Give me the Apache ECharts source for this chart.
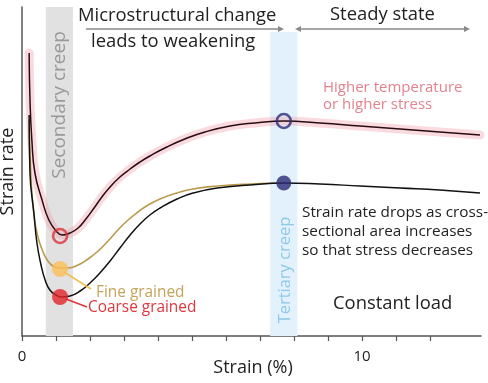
<!DOCTYPE html>
<html><head><meta charset="utf-8">
<script src="https://cdn.jsdelivr.net/npm/echarts@6/dist/echarts.min.js"></script>
<style>html,body{margin:0;padding:0;background:#fff}#c{width:488px;height:383px}</style>
</head><body><div id="c"></div>
<script>
// Strain (%) and strain-rate (arbitrary units) values
const upperStrain = [0.21,0.235,0.29,0.38,0.59,0.79,1.03,1.18,1.41,1.65,1.88,2.12,2.35,2.59,2.88,3.18,3.47,3.76,4.26,4.79,5.38,6.12,6.85,7.71,8.76,9.94,11.12,12.29,13.47];
const upperRate   = [283,236,196,163,136,116,104,101,103,108,117,128,139,149,159,167,174,180,189,197,204,210,213,215,213,210,207,204,201];
const fineStrain  = [0.21,0.26,0.35,0.47,0.62,0.76,0.91,1.12,1.35,1.65,1.94,2.24,2.53,2.82,3.12,3.41,3.71,4.06,4.56,5.03,5.74,6.71,7.71];
const fineRate    = [216,161,121,99,84,75,70,68,68,71,77,85,95,106,116,124,131,137,143,147,150,152,153];
const coarseStrain= [0.21,0.235,0.35,0.44,0.56,0.68,0.82,1.00,1.18,1.41,1.71,2.00,2.29,2.59,2.88,3.18,3.47,3.76,4.06,4.56,5.03,5.74,6.71,7.71,8.76,9.94,11.12,12.29,13.47];
const coarseRate  = [221,163,123,93,71,56,46,41,39,40,45,53,63,75,88,101,112,121,128,137,143,148,151,153,152,150,148,146,143];
// marker points
const openRedPt   = [1.12, 100];
const openNavyPt  = [7.70, 215];
const fillNavyPt  = [7.70, 153];
const fineMinPt   = [1.12, 67];
const coarseMinPt = [1.12, 39];
// shaded stages
const secondaryBand = [0.7, 1.5];
const tertiaryBand  = [7.3, 8.1];
const xTicks = [0,1,2,3,4,5,6,7,8,9,10,11,12];
const xTickLabels = [0, 10];

const zip = (a,b)=>a.map((v,i)=>[v,b[i]]);
const F = '"Open Sans", sans-serif';
const chart = echarts.init(document.getElementById('c'), null, {renderer:'canvas'});

function arrowHead(x,y,dir,color){
  const s=6, h=3;
  return {type:'polygon', z:20, shape:{points: dir>0 ? [[x,y],[x-s,y-h],[x-s,y+h]] : [[x,y],[x+s,y-h],[x+s,y+h]]}, style:{fill:color}};
}
const arrowC = '#8a8a8a';
const lineCommon = {smooth:0.5, symbol:'none'};

chart.setOption({
  animation:false,
  grid:{left:22, right:7, top:7, bottom:47, outerBoundsMode:'none', containLabel:false},
  xAxis:{type:'value', min:0, max:13.5,
    axisLine:{lineStyle:{color:'#555', width:1.5}},
    axisTick:{show:true, length:5, customValues:xTicks, lineStyle:{color:'#555', width:1.2}},
    axisLabel:{customValues:xTickLabels, color:'#222', fontSize:15, fontFamily:F, margin:13},
    splitLine:{show:false}
  },
  yAxis:{type:'value', min:0, max:329,
    axisLine:{show:true, lineStyle:{color:'#555', width:1.5}},
    axisTick:{show:false}, axisLabel:{show:false}, splitLine:{show:false},
    name:'Strain rate', nameLocation:'middle', nameGap:5, nameTextStyle:{color:'#222', fontSize:18, fontFamily:F}
  },
  series:[
    {type:'line', data:[], z:0, silent:true,
      markArea:{silent:true, data:[
        [{xAxis:secondaryBand[0], yAxis:0, itemStyle:{color:'#e1e1e1'}},{xAxis:secondaryBand[1], yAxis:329}],
        [{xAxis:tertiaryBand[0], yAxis:0, itemStyle:{color:'#e2f1fb'}},{xAxis:tertiaryBand[1], yAxis:304}]
      ]}
    },
    Object.assign({type:'line', data:zip(upperStrain,upperRate), z:2,
      lineStyle:{color:'rgba(238,160,170,0.38)', width:9, cap:'round'}}, lineCommon),
    Object.assign({type:'line', data:zip(upperStrain,upperRate), z:3,
      lineStyle:{color:'#2a0b12', width:1.5}}, lineCommon),
    Object.assign({type:'line', data:zip(fineStrain,fineRate), z:3,
      lineStyle:{color:'#b99b4e', width:1.6}}, lineCommon),
    Object.assign({type:'line', data:zip(coarseStrain,coarseRate), z:4,
      lineStyle:{color:'#111', width:1.5}}, lineCommon),
    {type:'scatter', z:6, symbolSize:14, data:[
      {value:openRedPt, itemStyle:{color:'rgba(0,0,0,0)', borderColor:'#d9343c', borderWidth:2.6}},
      {value:openNavyPt, itemStyle:{color:'rgba(0,0,0,0)', borderColor:'#2d2b78', borderWidth:2.6}},
      {value:fillNavyPt, symbolSize:15, itemStyle:{color:'#2a2977'}},
      {value:fineMinPt, symbolSize:16, itemStyle:{color:'#fcbf58'}},
      {value:coarseMinPt, symbolSize:16, itemStyle:{color:'#e3242b'}}
    ]}
  ],
  graphic:[
    {type:'text', z:10, x:253, y:368, style:{text:'Strain (%)', fill:'#222', font:'18px '+F, textAlign:'center', textVerticalAlign:'middle'}},
    {type:'text', z:10, x:60, y:105, rotation:Math.PI/2,
      style:{text:'Secondary creep', fill:'#999', font:'19px '+F, textAlign:'center', textVerticalAlign:'middle'}},
    {type:'text', z:10, x:285, y:270, rotation:Math.PI/2,
      style:{text:'Tertiary creep', fill:'#8ec9ea', font:'16.5px '+F, textAlign:'center', textVerticalAlign:'middle'}},
    {type:'text', z:10, x:78, y:16, style:{text:'Microstructural change', fill:'#222', font:'18.4px '+F, textVerticalAlign:'middle'}},
    {type:'text', z:10, x:91, y:42, style:{text:'leads to weakening', fill:'#222', font:'18.4px '+F, textVerticalAlign:'middle'}},
    {type:'text', z:10, x:330, y:15, style:{text:'Steady state', fill:'#222', font:'18.4px '+F, textVerticalAlign:'middle'}},
    {type:'line', z:10, shape:{x1:86,y1:29,x2:281,y2:29}, style:{stroke:arrowC, lineWidth:1.3}},
    arrowHead(284,29,1,arrowC),
    {type:'line', z:10, shape:{x1:298,y1:29,x2:467,y2:29}, style:{stroke:arrowC, lineWidth:1.3}},
    arrowHead(295,29,-1,arrowC),
    arrowHead(470,29,1,arrowC),
    {type:'text', z:10, x:323, y:88, style:{text:'Higher temperature', fill:'#e2838d', font:'15px '+F, textVerticalAlign:'middle'}},
    {type:'text', z:10, x:323, y:105, style:{text:'or higher stress', fill:'#e2838d', font:'15px '+F, textVerticalAlign:'middle'}},
    {type:'text', z:10, x:302, y:213, style:{text:'Strain rate drops as cross-', fill:'#222', font:'15.3px '+F, textVerticalAlign:'middle'}},
    {type:'text', z:10, x:302, y:232, style:{text:'sectional area increases', fill:'#222', font:'15.3px '+F, textVerticalAlign:'middle'}},
    {type:'text', z:10, x:302, y:251, style:{text:'so that stress decreases', fill:'#222', font:'15.3px '+F, textVerticalAlign:'middle'}},
    {type:'text', z:10, x:333, y:304, style:{text:'Constant load', fill:'#222', font:'18.4px '+F, textVerticalAlign:'middle'}},
    {type:'line', z:5, shape:{x1:64,y1:272,x2:91,y2:289}, style:{stroke:'#f3c04e', lineWidth:1.6}},
    {type:'line', z:5, shape:{x1:66,y1:299,x2:87,y2:307}, style:{stroke:'#e3343b', lineWidth:1.6}},
    {type:'text', z:10, x:96, y:293, style:{text:'Fine grained', fill:'#c4a458', font:'15.4px '+F, textVerticalAlign:'middle'}},
    {type:'text', z:10, x:88, y:308, style:{text:'Coarse grained', fill:'#e2353c', font:'15.4px '+F, textVerticalAlign:'middle'}}
  ]
});
</script></body></html>
